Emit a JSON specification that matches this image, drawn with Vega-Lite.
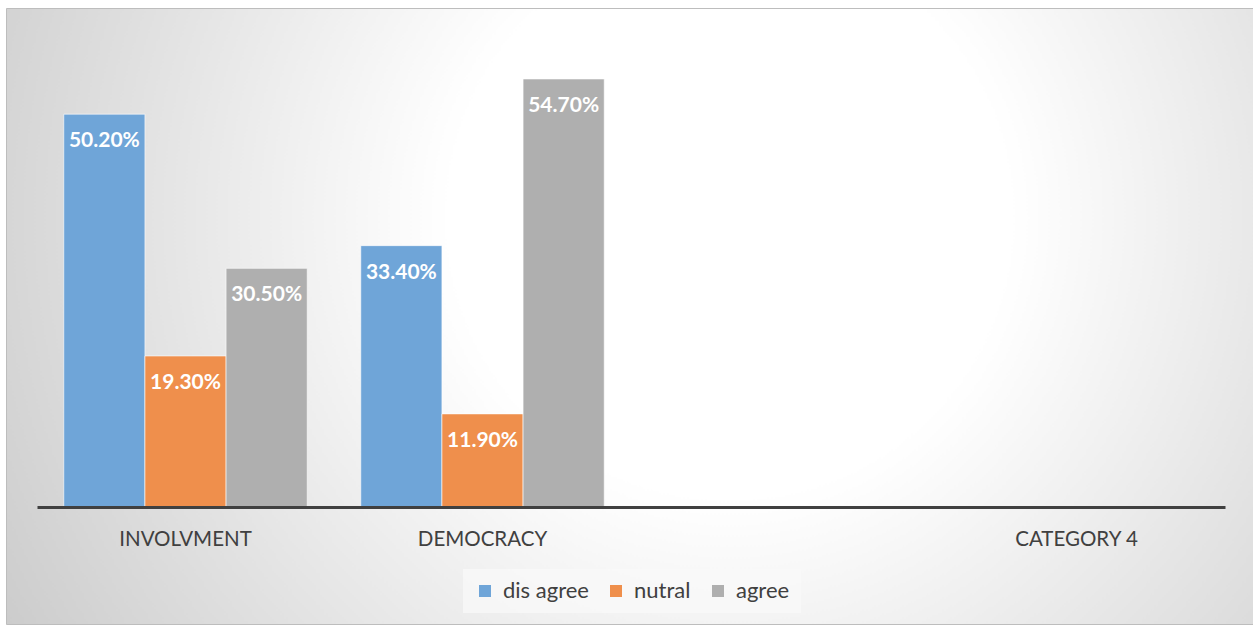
{
  "$schema": "https://vega.github.io/schema/vega-lite/v6.json",
  "width": 1247,
  "height": 616,
  "padding": {"left": 6, "top": 8, "right": 0, "bottom": 1},
  "autosize": {"type": "none"},
  "background": "#ffffff",
  "view": {
    "fill": {
      "gradient": "radial",
      "x1": 0.58, "y1": 0.42, "r1": 0,
      "x2": 0.58, "y2": 0.42, "r2": 0.75,
      "stops": [
        {"offset": 0, "color": "#ffffff"},
        {"offset": 0.3, "color": "#ffffff"},
        {"offset": 1, "color": "#c2c2c2"}
      ]
    },
    "stroke": "#bdbdbd",
    "strokeWidth": 1
  },
  "data": {
    "values": [
      {"category": "INVOLVMENT", "series": "dis agree", "value": 0.502},
      {"category": "INVOLVMENT", "series": "nutral", "value": 0.193},
      {"category": "INVOLVMENT", "series": "agree", "value": 0.305},
      {"category": "DEMOCRACY", "series": "dis agree", "value": 0.334},
      {"category": "DEMOCRACY", "series": "nutral", "value": 0.119},
      {"category": "DEMOCRACY", "series": "agree", "value": 0.547}
    ]
  },
  "encoding": {
    "x": {
      "field": "category",
      "type": "nominal",
      "title": null,
      "scale": {
        "domain": ["INVOLVMENT", "DEMOCRACY", " ", "CATEGORY 4"],
        "range": [31, 1219],
        "paddingInner": 0,
        "paddingOuter": 0
      },
      "axis": {
        "orient": "bottom",
        "offset": -117,
        "domainColor": "#404040",
        "domainWidth": 3,
        "ticks": false,
        "grid": false,
        "labelAngle": 0,
        "labelFont": "Lato",
        "labelFontSize": 20.5,
        "labelColor": "#404040",
        "labelPadding": 22,
        "zindex": 1
      }
    },
    "xOffset": {
      "field": "series",
      "type": "nominal",
      "scale": {
        "domain": ["dis agree", "nutral", "agree"],
        "paddingInner": 0,
        "paddingOuter": 0.33
      }
    },
    "y": {
      "field": "value",
      "type": "quantitative",
      "scale": {"domain": [0, 0.6], "range": [499, 29.5]},
      "axis": null
    }
  },
  "layer": [
    {
      "mark": {"type": "bar", "stroke": "#ffffff", "strokeWidth": 1, "strokeOpacity": 0.6},
      "encoding": {
        "color": {
          "field": "series",
          "type": "nominal",
          "scale": {
            "domain": ["dis agree", "nutral", "agree"],
            "range": ["#6fa5d8", "#ef8f4c", "#afafaf"]
          },
          "legend": {
            "orient": "none",
            "legendX": 457,
            "legendY": 561,
            "direction": "horizontal",
            "title": null,
            "symbolType": "square",
            "symbolSize": 144,
            "symbolStrokeWidth": 0,
            "symbolOpacity": 1,
            "labelFont": "Lato",
            "labelFontSize": 22,
            "labelColor": "#404040",
            "labelOffset": 7,
            "columnPadding": 16,
            "padding": 11,
            "fillColor": "rgba(250,250,250,0.7)"
          }
        }
      }
    },
    {
      "mark": {
        "type": "text",
        "color": "#ffffff",
        "font": "Lato",
        "fontWeight": "bold",
        "fontSize": 21,
        "baseline": "middle",
        "dy": 27
      },
      "encoding": {
        "text": {"field": "value", "type": "quantitative", "format": ".2%"}
      }
    }
  ]
}
